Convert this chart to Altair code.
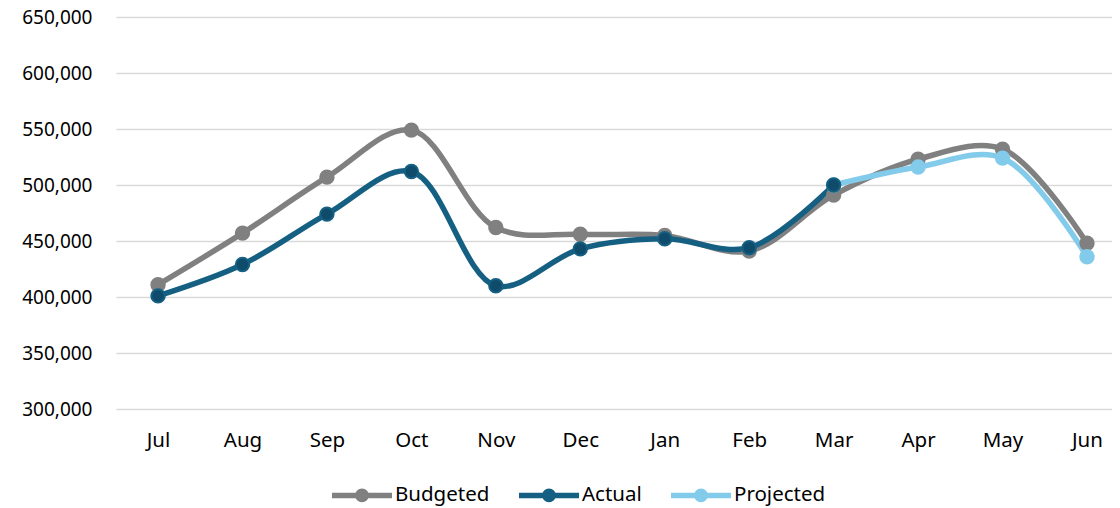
import altair as alt
import pandas as pd

months = ["Jul", "Aug", "Sep", "Oct", "Nov", "Dec", "Jan", "Feb", "Mar", "Apr", "May", "Jun"]
budgeted = [411000, 457000, 507000, 549000, 462000, 456000, 455000, 441000, 491000, 523000, 532000, 448000]
actual_months = ["Jul", "Aug", "Sep", "Oct", "Nov", "Dec", "Jan", "Feb", "Mar"]
actual = [401000, 429000, 474000, 512000, 410000, 443000, 452000, 444000, 500000]
projected_months = ["Mar", "Apr", "May", "Jun"]
projected = [500000, 516000, 524000, 436000]

series = ["Budgeted", "Actual", "Projected"]
colors = ["#808080", "#156082", "#83CBEB"]

rows = []
for m, v in zip(months, budgeted):
    rows.append({"month": m, "value": v, "series": "Budgeted"})
for m, v in zip(projected_months, projected):
    rows.append({"month": m, "value": v, "series": "Projected"})
for m, v in zip(actual_months, actual):
    rows.append({"month": m, "value": v, "series": "Actual"})
df = pd.DataFrame(rows)

FONT = "Noto Sans"

x = alt.X("month:N", sort=months, title=None,
          scale=alt.Scale(type="point", padding=0.397, align=0.627),
          axis=alt.Axis(labelAngle=0, labelFontSize=20.5, labelColor="#000000", labelFont=FONT,
                        labelPadding=21, domain=False, ticks=False, grid=False))
y = alt.Y("value:Q", title=None,
          scale=alt.Scale(domain=[300000, 650000], nice=False, zero=False),
          axis=alt.Axis(values=list(range(300000, 650001, 50000)), format=",.0f",
                        labelFontSize=19, labelColor="#000000", labelFont=FONT,
                        labelPadding=24, domain=False, ticks=False,
                        grid=True, gridColor="#d9d9d9", gridWidth=1.5))

color_scale = alt.Scale(domain=series, range=colors)

legend_path = "M-1,0H1M-0.14,0A0.14,0.14 0 1,0 0.14,0A0.14,0.14 0 1,0 -0.14,0Z"

order = ["Budgeted", "Projected", "Actual"]
line_col = {"Budgeted": "#808080", "Projected": "#83CBEB", "Actual": "#156082"}
pt_fill = {"Budgeted": "#808080", "Projected": "#83CBEB", "Actual": "#0F4C6B"}

layers = []
for s in order:
    sub = alt.Chart(df).transform_filter(alt.datum.series == s)
    layers.append(sub.mark_line(interpolate="catmull-rom", strokeWidth=5.5,
                                color=line_col[s]).encode(x=x, y=y))
for s in order:
    sub = alt.Chart(df).transform_filter(alt.datum.series == s)
    layers.append(sub.mark_point(filled=True, size=180, fill=pt_fill[s], stroke=line_col[s],
                                 strokeWidth=2, opacity=1).encode(x=x, y=y))

legend_layer = alt.Chart(df).mark_line(opacity=0, strokeWidth=5).encode(
    x=x, y=y,
    color=alt.Color("series:N", scale=color_scale, sort=series,
                    legend=alt.Legend(title=None, orient="none", direction="horizontal",
                                      legendX=213, legendY=445,
                                      symbolType=legend_path, symbolSize=3600,
                                      symbolStrokeWidth=5.5, symbolOpacity=1,
                                      labelFontSize=20.5, labelFont=FONT, labelColor="#000000",
                                      labelOffset=0, columnPadding=18))
)
layers.append(legend_layer)

chart = alt.layer(*layers).properties(
    width=996, height=392,
    autosize=alt.AutoSizeParams(type="none"),
    padding={"left": 108, "top": 9, "right": 0, "bottom": 99},
    background="#ffffff",
).configure_view(stroke=None)

chart.save("out.html", embed_options={"renderer": "svg", "actions": False})
